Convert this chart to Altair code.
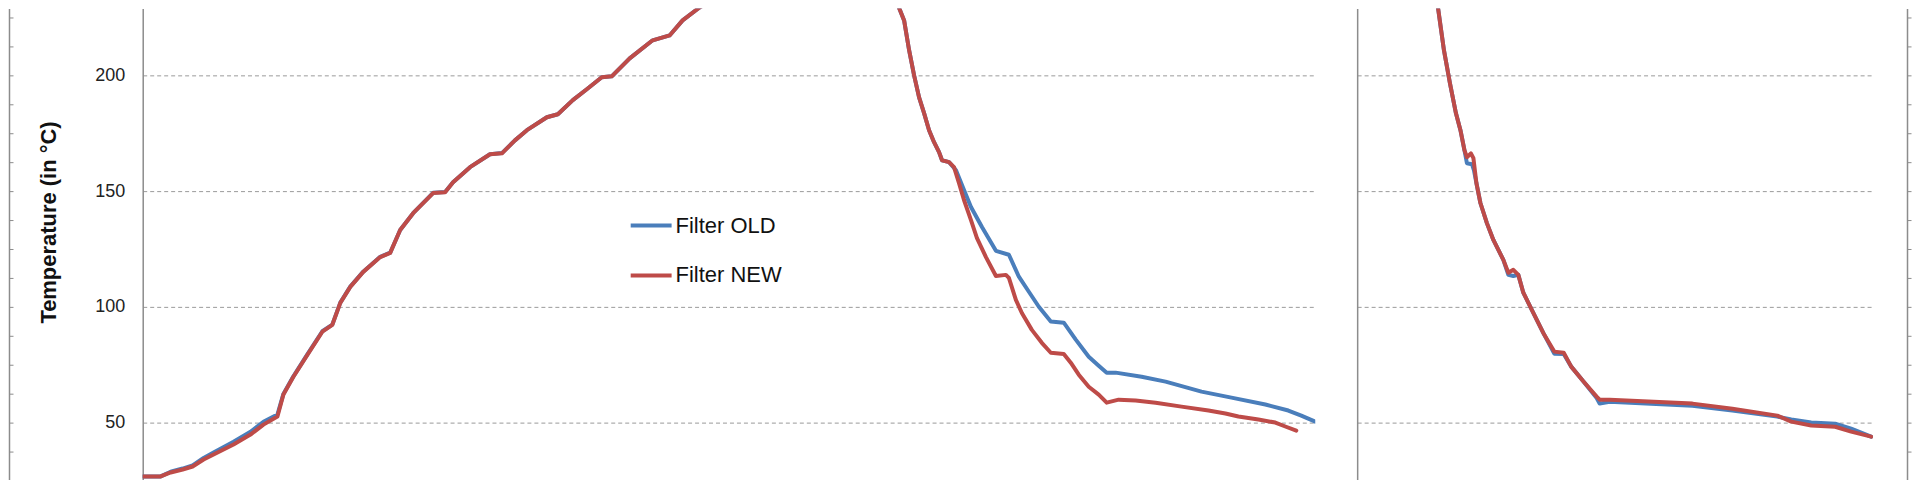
import altair as alt
import pandas as pd

# ---------------- data (time in minutes, temperature in °C) ----------------
# Left panel: heating + cooling; heating part is common to both filters
heat_t = [0, 3.6, 5.6, 8.0, 10.0, 12.2, 14.2, 18.2, 21.6, 24.2, 27.0, 28.2, 30.2, 33.0, 36.0,
          38.0, 39.6, 41.6, 44.2, 47.6, 49.6, 51.6, 54.2, 58.2, 60.6, 62.2, 65.6, 69.6, 72.0, 74.6,
          77.0, 81.0, 83.2, 86.2, 89.0, 92.0, 94.0, 97.6, 102.2, 105.6, 108.2, 111.6, 114.0, 118.6,
          124.6, 131.6, 139.6, 144.6, 148.6, 151.0, 152.6, 153.6, 154.6, 155.6, 156.6, 157.6, 158.6,
          159.6, 160.2, 161.6]
heat_new_v = [26.6, 26.6, 28.3, 29.6, 30.9, 33.9, 36.1, 40.4, 44.7, 49.0, 52.5, 62.0, 69.7, 79.2, 89.2,
              92.2, 101.7, 108.6, 115.1, 121.5, 123.3, 133.2, 140.5, 149.2, 149.6, 153.9, 160.4, 166.0, 166.4, 172.0,
              176.4, 182.0, 183.3, 189.4, 194.1, 199.3, 199.7, 207.5, 215.3, 217.4, 223.9, 229.5, 232.5, 239.0,
              246.3, 251.9, 254.1, 252.4, 244.6, 232.5, 223.9, 211.0, 200.1, 190.6, 183.8, 176.4, 171.2,
              166.9, 163.4, 162.6]
heat_old_v = [26.6, 26.6, 28.6, 30.0, 31.4, 34.6, 37.0, 41.6, 45.9, 50.2, 53.4, 62.3, 69.9, 79.4, 89.4,
              92.3, 101.8, 108.7, 115.2, 121.6, 123.4, 133.2, 140.5, 149.3, 149.7, 153.9, 160.4, 166.0, 166.5, 172.0,
              176.4, 182.0, 183.3, 189.4, 194.1, 199.3, 199.7, 207.5, 215.3, 217.4, 223.9, 229.5, 232.5, 239.0,
              246.3, 251.9, 254.1, 252.4, 244.6, 232.5, 223.9, 211.0, 200.1, 190.6, 183.8, 176.4, 171.2,
              166.9, 163.4, 162.6]

cool_new_t = [162.6, 163.6, 164.6, 166.0, 167.2, 169.0, 171.0, 173.0, 173.6, 175.0, 176.2, 178.2, 180.2,
              182.0, 184.6, 186.0, 187.6, 189.6, 191.6, 193.2, 195.6, 199.0, 203.0, 208.2, 213.6, 217.0,
              219.6, 223.6, 227.0, 229.0, 231.2]
cool_new_v = [160.4, 153.5, 146.2, 137.5, 129.7, 121.5, 113.3, 113.8, 112.5, 103.0, 97.3, 90.0, 84.4,
              80.1, 79.6, 75.8, 70.6, 65.4, 62.0, 58.5, 59.8, 59.4, 58.5, 56.8, 55.1, 53.8,
              52.5, 51.2, 49.9, 48.2, 46.4]
cool_old_t = [163.0, 164.6, 166.0, 168.2, 171.0, 173.6, 175.6, 177.6, 179.6, 182.0, 184.6, 187.0, 189.6,
              191.6, 193.2, 195.0, 200.2, 205.0, 212.2, 218.2, 225.0, 229.6, 232.2, 235.0]
cool_old_v = [159.1, 150.5, 143.2, 134.5, 124.2, 122.5, 113.0, 106.5, 100.0, 93.6, 93.1, 85.8, 78.4,
              74.5, 71.5, 71.5, 69.7, 67.6, 63.3, 60.7, 57.7, 55.1, 52.9, 50.3]

# Right panel: cooling only
right_new_t = [15.0, 16.0, 17.4, 18.6, 19.8, 20.7, 21.5, 22.0, 22.8, 23.3, 23.9, 24.7, 26.0, 27.3, 29.3,
               30.3, 31.3, 32.3, 33.3, 35.3, 37.3, 39.5, 41.4, 42.9, 45.4, 48.0, 48.6, 50.6, 67.2,
               75.2, 84.2, 87.0, 91.0, 95.8, 99.0, 103.0]
right_new_v = [248.0, 232.5, 210.9, 196.7, 183.7, 176.4, 167.8, 164.7, 166.4, 164.3, 153.5, 144.9, 136.2, 128.9, 120.3,
               114.7, 116.0, 113.8, 106.1, 97.4, 88.7, 80.6, 80.1, 74.1, 67.6, 61.1, 59.8, 59.8, 58.1,
               55.9, 52.9, 50.3, 48.6, 48.1, 46.0, 43.8]
right_old_t = [15.0, 16.0, 17.4, 18.6, 19.8, 20.7, 21.5, 22.0, 23.0, 23.4, 23.9, 24.7, 26.0, 27.3, 29.3,
               30.3, 31.3, 32.3, 33.3, 35.3, 37.3, 39.5, 41.4, 42.9, 45.4, 48.0, 48.6, 50.6, 67.2,
               75.2, 84.2, 87.0, 91.0, 95.8, 99.0, 103.0]
right_old_v = [248.0, 232.5, 210.9, 196.7, 183.7, 176.4, 167.8, 162.1, 161.7, 159.1, 153.5, 144.9, 136.2, 128.9, 120.3,
               113.8, 113.3, 113.8, 106.1, 97.4, 88.7, 79.7, 79.6, 74.1, 67.6, 60.5, 58.1, 58.9, 57.2,
               55.1, 52.5, 51.2, 49.9, 49.4, 47.3, 43.8]

series_names = ["Filter OLD", "Filter NEW"]
series_colors = ["#4a7ebb", "#be4b48"]
y_ticks = [50, 100, 150, 200]
edge_ticks = [37.5, 50, 62.5, 75, 87.5, 100, 112.5, 125, 137.5, 150, 162.5, 175, 187.5, 200, 212.5, 225]
y_domain = [25.26, 229.06]
left_x_domain = [0, 235]
right_x_domain = [0, 103.4]

# ---------------- tables ----------------
def rows(ts, vs, name):
    return [{"t": a, "temp": b, "series": name} for a, b in zip(ts, vs)]

left_df = pd.DataFrame(
    rows(heat_t + cool_old_t, heat_old_v + cool_old_v, "Filter OLD")
    + rows(heat_t + cool_new_t, heat_new_v + cool_new_v, "Filter NEW")
)
right_df = pd.DataFrame(
    rows(right_old_t, right_old_v, "Filter OLD") + rows(right_new_t, right_new_v, "Filter NEW")
)

FONT = "Liberation Sans"
GRID = "#9a9a9a"
AXIS = "#8c8c8c"
color_scale = alt.Scale(domain=series_names, range=series_colors)
y_scale = alt.Scale(domain=y_domain, nice=False, zero=False)


def lines(df, xdom, y_axis, legend):
    return alt.Chart(df).mark_line(clip=True, strokeWidth=4, strokeJoin="round", strokeCap="round").encode(
        x=alt.X("t:Q", scale=alt.Scale(domain=xdom, nice=False, zero=False), axis=None),
        y=alt.Y("temp:Q", scale=y_scale, axis=y_axis),
        color=alt.Color("series:N", scale=color_scale, sort=series_names, legend=legend),
        detail="series:N",
    )


def edge(df, xdom, offset):
    return alt.Chart(df).mark_line(strokeOpacity=0, clip=True).encode(
        x=alt.X("t:Q", scale=alt.Scale(domain=xdom, nice=False, zero=False), axis=None),
        y=alt.Y("temp:Q", scale=y_scale, axis=alt.Axis(
            orient="right", offset=offset, values=edge_ticks, labels=False, grid=False, title=None,
            ticks=True, tickSize=4, tickColor=AXIS, tickWidth=1, domainColor=AXIS, domainWidth=1.5)),
    )


left_axis = alt.Axis(
    values=y_ticks, title="Temperature (in °C)", grid=True, gridDash=[4, 3], gridColor=GRID, gridWidth=1,
    ticks=False, tickSize=0, labelPadding=18, labelFont=FONT, labelFontSize=18, labelColor="#222222",
    domainColor=AXIS, domainWidth=1.5,
    titleFont=FONT, titleFontSize=22, titleFontWeight="bold", titleColor="#111111",
    titleAngle=270, titleX=-94, titleY=214, titleBaseline="middle", titleAlign="center",
)
right_axis = alt.Axis(
    values=y_ticks, title=None, grid=True, gridDash=[4, 3], gridColor=GRID, gridWidth=1,
    ticks=False, tickSize=0, labels=False, domainColor=AXIS, domainWidth=1.5,
)
legend = alt.Legend(
    orient="none", legendX=487, legendY=195, title=None, symbolType="stroke", symbolSize=1681,
    symbolStrokeWidth=4, labelFont=FONT, labelFontSize=22, labelColor="#111111",
    rowPadding=16, labelOffset=2, padding=0, direction="vertical",
)

left = alt.layer(
    lines(left_df, left_x_domain, left_axis, legend),
    edge(left_df, left_x_domain, -1309),
).resolve_scale(y="independent").properties(width=1175, height=472)

right = alt.layer(
    lines(right_df, right_x_domain, right_axis, None),
    edge(right_df, right_x_domain, 34),
).resolve_scale(y="independent").properties(width=517, height=472)

chart = alt.hconcat(left, right, spacing=42, bounds="flush").resolve_scale(
    color="independent", y="independent"
).properties(padding=0).configure_view(stroke=None)

chart.save("out.html", embed_options={"renderer": "svg", "actions": False})
